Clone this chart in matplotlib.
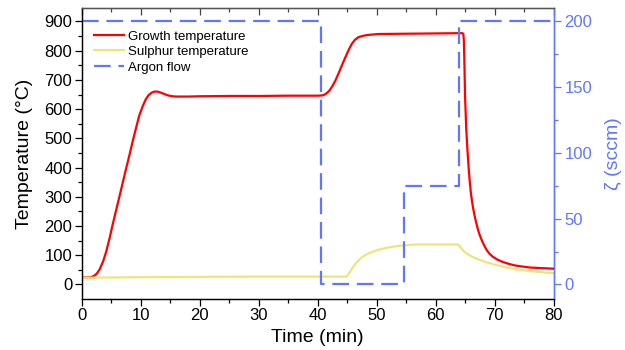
import numpy as np
import matplotlib.pyplot as plt

plt.rcParams['font.family'] = ['Liberation Sans', 'DejaVu Sans']

# growth (substrate) temperature, degC
growth_t = [0, 1.0, 1.5, 2.0, 2.5, 3.0, 3.6, 4.1, 4.7, 5.2, 5.8, 6.4, 7.0, 7.5, 8.1, 8.6,
            9.2, 9.7, 10.3, 10.8, 11.3, 11.8, 12.3, 12.8, 13.3, 13.8, 14.3, 14.8, 15.4,
            16.0, 18, 20, 25, 30, 35, 40, 40.8, 41.2, 41.6, 42.0, 42.4, 43.0, 43.5, 44.1,
            44.7, 45.3, 45.8, 46.3, 46.9, 47.7, 48.6, 50.3, 55, 60, 64.5, 64.7, 64.8,
            64.9, 65.0, 65.2, 65.4, 65.6, 65.8, 66.0, 66.3, 66.6, 66.9, 67.2, 67.5, 67.9,
            68.3, 68.7, 69.1, 69.7, 70.5, 71.4, 72.5, 73.5, 74.5, 76, 78, 80]
growth_T = [24, 24, 25, 29, 37, 52, 80, 112, 160, 205, 255, 305, 356, 398, 447, 490,
            538, 577, 610, 633, 648, 656, 660, 660, 657, 653, 649, 646, 644,
            643, 643, 644, 645, 645, 646, 646, 647, 650, 656, 664, 676, 698, 721, 750,
            778, 805, 824, 837, 846, 851, 854, 857, 858, 859, 860, 858, 830,
            740, 640, 530, 460, 400, 350, 310, 268, 236, 210, 187, 168, 148,
            131, 117, 106, 95, 85, 77, 70, 65, 62, 58, 56, 54]

# sulphur source temperature, degC
sulphur_t = [0, 10, 20, 30, 40, 44.9, 45.2, 45.6, 46.0, 46.4, 47.0, 47.5, 48.0, 48.7,
             49.5, 50.2, 50.9, 51.6, 52.3, 53.0, 53.7, 54.8, 55.9, 57, 63.8, 64.2, 64.6,
             65.0, 65.5, 66.3, 67.5, 68.6, 70, 71.4, 72.8, 74.2, 75.6, 77, 78.5, 80]
sulphur_T = [23, 25, 26, 27, 27, 27, 35, 48, 60, 71, 84, 93, 100, 107,
             113, 118, 122, 125, 128, 130, 132, 134, 136, 137, 137, 128, 118,
             110, 103, 94, 84, 76, 68, 61, 55, 50, 47, 44, 41, 39]

# argon flow set points, sccm
argon_t = [0, 40.6, 54.7, 63.9, 80]
argon_flow = [200, 0, 75, 200, 200]

blue = '#6176ff'

fig = plt.figure(figsize=(6.25, 3.5), dpi=100)
ax = fig.add_axes([0.1312, 0.1471, 0.8856 - 0.1312, 0.9763 - 0.1471])
ax2 = ax.twinx()

l1, = ax.plot(growth_t, growth_T, color='#ff0000', lw=1.6, label='Growth temperature')
l2, = ax.plot(sulphur_t, sulphur_T, color='#ede57a', lw=1.6, label='Sulphur temperature')
l3, = ax2.plot(argon_t, argon_flow, color=blue, lw=1.6, ls=(0, (7.5, 3.5)),
               drawstyle='steps-post', label='Argon flow')

ax.set_xlim(0, 80)
ax.set_ylim(-48, 945)
ax2.set_ylim(-10.67, 210)

ax.set_xticks(np.arange(0, 81, 10))
ax.set_xticks(np.arange(0, 81, 5), minor=True)
ax.set_yticks(np.arange(0, 901, 100))
ax.set_yticks(np.arange(0, 901, 50), minor=True)
ax2.set_yticks(np.arange(0, 201, 50))
ax2.set_yticks(np.arange(0, 201, 25), minor=True)

ax.tick_params(axis='both', which='major', direction='out', length=5, width=0.9,
               labelsize=12, pad=2)
ax.tick_params(axis='both', which='minor', direction='out', length=3, width=0.9)
ax2.tick_params(axis='y', which='major', direction='out', length=5, width=0.9,
                labelsize=12, colors=blue, pad=3)
ax2.tick_params(axis='y', which='minor', direction='out', length=3, width=0.9, colors=blue)

# inward ticks on the top spine
top = ax.secondary_xaxis('top')
top.set_xticks(np.arange(0, 81, 10))
top.set_xticks(np.arange(0, 81, 5), minor=True)
top.tick_params(which='major', direction='in', length=5, width=0.9, labeltop=False, color='#444444')
top.tick_params(which='minor', direction='in', length=3, width=0.9, color='#444444')
top.spines['top'].set_color('#555555')

for a in (ax, ax2):
    for s in a.spines.values():
        s.set_linewidth(0.9)
ax2.spines['right'].set_color(blue)
ax2.spines['top'].set_color('#555555')
ax.spines['top'].set_color('#555555')

ax.set_xlabel('Time (min)', fontsize=14, labelpad=4)
ax.set_ylabel('Temperature (°C)', fontsize=14, labelpad=8)
ax2.set_ylabel('ζ (sccm)', fontsize=14, color=blue, labelpad=9)

ax.legend(handles=[l1, l2, l3], loc='upper left', bbox_to_anchor=(0.0, 0.965),
          frameon=False, fontsize=9.5, handlelength=2.3, handletextpad=0.3,
          labelspacing=0.25, borderaxespad=0.5)

fig.savefig('out.png', dpi=100)
